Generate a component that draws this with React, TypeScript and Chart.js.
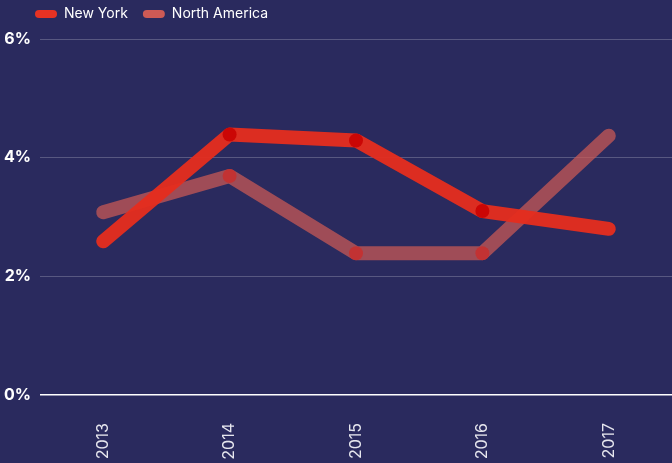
import React, { useEffect, useRef } from "react";
import { Chart, registerables } from "chart.js";

Chart.register(...registerables);

const years = ["2013", "2014", "2015", "2016", "2017"];
const newYork = [2.59, 4.39, 4.29, 3.1, 2.8];
const northAmerica = [3.08, 3.69, 2.39, 2.39, 4.37];
const yTicks = [0, 2, 4, 6];

const FONT = "Inter, 'Open Sans', sans-serif";

const legendShift = {
  id: "legendShift",
  afterLayout(chart: any) {
    const l = chart.legend;
    if (l) {
      l.left += 20;
      l.right += 20;
      l.top -= 8;
      l.bottom -= 8;
    }
  },
};

export default function App() {
  const ref = useRef<HTMLCanvasElement>(null);
  useEffect(() => {
    document.body.style.margin = "0";
    document.body.style.background = "#2a2a5e";
    const ctx = ref.current!;
    const chart = new Chart(ctx, {
      type: "line",
      data: {
        labels: years,
        datasets: [
          {
            label: "New York",
            data: newYork,
            borderColor: "rgba(230,45,30,0.95)",
            backgroundColor: "rgb(230,50,35)",
            borderWidth: 14,
            borderCapStyle: "round",
            borderJoinStyle: "round",
            pointRadius: [0, 7, 7, 7, 0],
            pointHoverRadius: [0, 7, 7, 7, 0],
            pointBorderWidth: 0,
            pointBackgroundColor: "rgba(200,0,0,0.85)",
            tension: 0,
          },
          {
            label: "North America",
            data: northAmerica,
            borderColor: "rgba(205,90,85,0.72)",
            backgroundColor: "rgb(205,90,85)",
            borderWidth: 14,
            borderCapStyle: "round",
            borderJoinStyle: "round",
            pointRadius: [0, 7, 7, 7, 0],
            pointHoverRadius: [0, 7, 7, 7, 0],
            pointBorderWidth: 0,
            pointBackgroundColor: "rgba(210,40,35,0.7)",
            tension: 0,
          },
        ],
      },
      options: {
        responsive: false,
        animation: false,
        layout: { padding: { top: 0, right: 0, left: 0, bottom: 0 } },
        plugins: {
          tooltip: { enabled: false },
          legend: {
            display: true,
            position: "top",
            align: "start",
            labels: {
              color: "#ffffff",
              font: { family: FONT, size: 14 },
              boxWidth: 22,
              boxHeight: 8,
              padding: 15,
              useBorderRadius: true,
              borderRadius: 4,
              generateLabels: (c: any) => {
                const items = Chart.defaults.plugins.legend.labels.generateLabels(c);
                return items.map((it: any, i: number) => ({
                  ...it,
                  fillStyle: c.data.datasets[i].backgroundColor,
                  strokeStyle: c.data.datasets[i].backgroundColor,
                  lineWidth: 0,
                  borderRadius: 4,
                }));
              },
            },
          },
        },
        scales: {
          x: {
            offset: true,
            grid: { display: false, drawTicks: false },
            border: { display: false },
            ticks: {
              color: "#e6e6ee",
              font: { family: FONT, size: 16 },
              minRotation: 90,
              maxRotation: 90,
              padding: 28,
            },
            afterFit: (s: any) => {
              s.height = 68;
            },
          },
          y: {
            min: 0,
            max: 6,
            afterBuildTicks: (s: any) => {
              s.ticks = yTicks.map((v) => ({ value: v }));
            },
            grid: {
              drawTicks: false,
              color: (c: any) => (c.tick && c.tick.value === 0 ? "#ffffff" : "rgba(255,255,255,0.22)"),
              lineWidth: (c: any) => (c.tick && c.tick.value === 0 ? 1.5 : 1),
            },
            border: { display: false },
            ticks: {
              color: "#ffffff",
              font: { family: FONT, size: 16, weight: "bold" },
              padding: 9,
              callback: (v: any) => v + "%",
            },
            afterFit: (s: any) => {
              s.width = 40;
            },
          },
        },
      },
      plugins: [legendShift],
    } as any);
    return () => chart.destroy();
  }, []);
  return (
    <div style={{ width: 672, height: 463, background: "#2a2a5e" }}>
      <canvas ref={ref} width={672} height={463} />
    </div>
  );
}
